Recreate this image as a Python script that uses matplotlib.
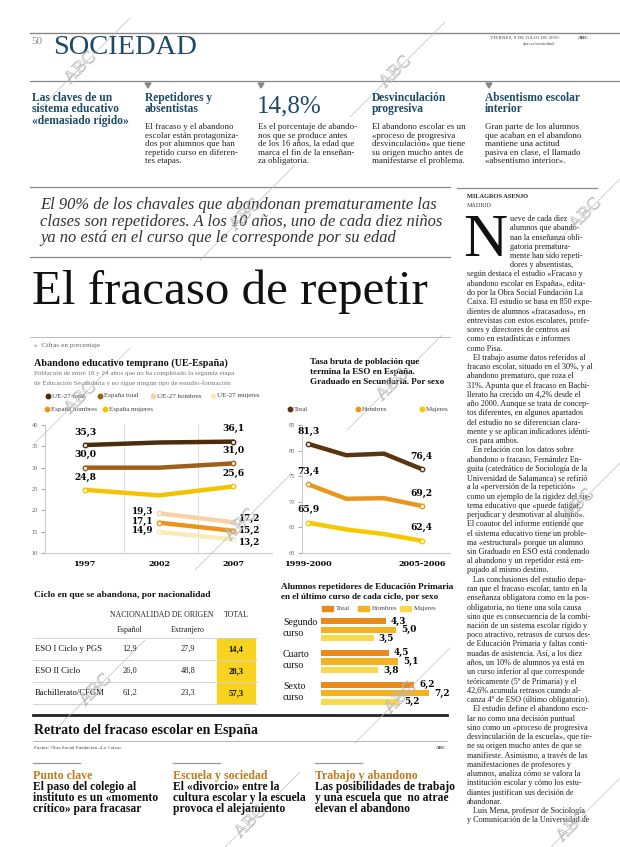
import matplotlib
matplotlib.use("Agg")
import matplotlib.pyplot as plt
import matplotlib.patheffects as pe
from matplotlib.lines import Line2D
from matplotlib.patches import Rectangle, Polygon

# ---- data -------------------------------------------------------------
years = [1997, 2002, 2007]
ue27_total = [35.3, 35.9, 36.1]
espana_total = [30.0, 30.0, 31.0]
espana_mujeres = [24.8, 23.5, 25.6]
years_b = [2002, 2007]
ue27_hombres = [19.3, 17.2]
espana_hombres = [17.1, 15.2]
ue27_mujeres = [14.9, 13.2]

periodos = ["1999-2000", "2001-2002", "2003-2004", "2005-2006"]
eso_total = [81.3, 79.1, 79.4, 76.4]
eso_hombres = [73.4, 70.6, 70.7, 69.2]
eso_mujeres = [65.9, 64.6, 63.7, 62.4]

ciclos = ["ESO I Ciclo y PGS", "ESO II Ciclo", "Bachillerato/CFGM"]
espanol = [12.9, 26.0, 61.2]
extranjero = [27.9, 48.8, 23.3]
total_ciclo = [14.4, 28.3, 57.3]

cursos = ["Segundo\ncurso", "Cuarto\ncurso", "Sexto\ncurso"]
rep_total = [4.3, 4.5, 6.2]
rep_hombres = [5.0, 5.1, 7.2]
rep_mujeres = [3.5, 3.8, 5.2]

W, H = 620, 847
SERIF = "Liberation Serif"
TEAL = "#1d4a66"

fig = plt.figure(figsize=(W / 100, H / 100), dpi=100)
fig.patch.set_facecolor("white")


def fx(x):
    return x / W


def fy(y):
    return 1 - y / H


def txt(x, y, s, size=6, **kw):
    kw.setdefault("family", SERIF)
    kw.setdefault("va", "center")
    fig.text(fx(x), fy(y), s, fontsize=size, **kw)


def hline(x0, x1, y, lw=0.8, color="#888888"):
    fig.add_artist(Line2D([fx(x0), fx(x1)], [fy(y), fy(y)], lw=lw, color=color,
                          transform=fig.transFigure))


def axes_px(x0, y0, x1, y1):
    return fig.add_axes([fx(x0), fy(y1), (x1 - x0) / W, (y1 - y0) / H])


def num(v):
    return f"{v:.1f}".replace(".", ",")


# ---- header -----------------------------------------------------------
hline(30, 620, 33, 1.0)
txt(31, 42, "50", 8, color="#8a8a8a")
txt(53, 48, "SOCIEDAD", 20.5, color=TEAL)
txt(490, 38, "VIERNES, 9 DE JULIO DE 2010", 3.6, color="#444444")
txt(578, 38, "ABC", 3.8, color="#444444", weight="bold")
txt(555, 44, "abc.es/sociedad", 3.6, color="#444444", ha="right")
hline(30, 620, 81, 0.9)
for tx in [148, 261, 489]:
    fig.add_artist(Polygon([[fx(tx - 3), fy(83)], [fx(tx + 3), fy(83)], [fx(tx), fy(88)]],
                           closed=True, color="#8a8a8a", transform=fig.transFigure))

heads = [
    (32, "Las claves de un\nsistema educativo\n«demasiado rígido»"),
    (145, "Repetidores y\nabsentistas"),
    (372, "Desvinculación\nprogresiva"),
    (485, "Absentismo escolar\ninterior"),
]
for hx, s in heads:
    txt(hx, 92, s, 8.3, color=TEAL, weight="bold", va="top", linespacing=0.92)
txt(257, 106, "14,8%", 18, color=TEAL)

bodies = [
    (145, "El fracaso y el abandono\nescolar están protagoniza-\ndos por alumnos que han\nrepetido curso en diferen-\ntes etapas."),
    (258, "Es el porcentaje de abando-\nnos que se produce antes\nde los 16 años, la edad que\nmarca el fin de la enseñan-\nza obligatoria."),
    (372, "El abandono escolar es un\n«proceso de progresiva\ndesvinculación» que tiene\nsu origen mucho antes de\nmanifestarse el problema."),
    (485, "Gran parte de los alumnos\nque acaban en el abandono\nmantiene una actitud\npasiva en clase, el llamado\n«absentismo interior»."),
]
for bx, s in bodies:
    txt(bx, 123, s, 6.4, color="#222222", va="top", linespacing=1.1)

hline(30, 450, 187, 0.9)

# ---- deck and title ---------------------------------------------------
deck = ["El 90% de los chavales que abandonan prematuramente las",
        "clases son repetidores. A los 10 años, uno de cada diez niños",
        "ya no está en el curso que le corresponde por su edad"]
for i, line in enumerate(deck):
    txt(40, 205 + i * 16.5, line, 11.9, style="italic", color="#333333")
hline(30, 450, 257, 0.9)
txt(32, 304, "El fracaso de repetir", 35.3, va="baseline", color="#111111")
hline(30, 450, 337, 0.7, "#bbbbbb")
txt(34, 345, "»  Cifras en porcentaje", 5.2, color="#666666")

# ---- chart 1: abandono educativo temprano ----------------------------
txt(34, 363, "Abandono educativo temprano (UE-España)", 7.3, weight="bold", color="#111111")
txt(34, 374, "Población de entre 18 y 24 años que no ha completado la segunda etapa", 5.0, color="#777777")
txt(34, 383, "de Educación Secundaria y no sigue ningún tipo de estudio-formación", 5.0, color="#777777")

c_ue_total = "#4b2c0c"
c_es_total = "#9e5f1a"
c_ue_h = "#f6d3a6"
c_ue_m = "#faecb8"
c_es_h = "#e8951c"
c_es_m = "#f5c200"

leg1 = [(48, 396, c_ue_total, "UE-27 total"), (100, 396, c_es_total, "España total"),
        (153, 396, c_ue_h, "UE-27 hombres"), (213, 396, c_ue_m, "UE-27 mujeres"),
        (47, 409, c_es_h, "España hombres"), (105, 409, c_es_m, "España mujeres")]
for lx, ly, c, s in leg1:
    fig.add_artist(Line2D([fx(lx)], [fy(ly)], marker="o", ms=3.2, color=c, transform=fig.transFigure))
    txt(lx + 4, ly, s, 5.0, color="#444444")

ax1 = axes_px(45, 425, 272, 553)
series1 = [(years, ue27_total, c_ue_total), (years, espana_total, c_es_total),
           (years, espana_mujeres, c_es_m), (years_b, ue27_hombres, c_ue_h),
           (years_b, espana_hombres, c_es_h), (years_b, ue27_mujeres, c_ue_m)]
for xs, ys, c in series1:
    ax1.plot(xs, ys, color=c, lw=3.2, solid_capstyle="round", zorder=3)
    ax1.plot([xs[0], xs[-1]], [ys[0], ys[-1]], "o", ms=3.2, mfc="white", mec=c, mew=1.0, zorder=4)
for xs, ys in [(years, ue27_total), (years, espana_total), (years, espana_mujeres)]:
    for xv, yv in [(xs[0], ys[0]), (xs[-1], ys[-1])]:
        ax1.annotate(num(yv), (xv, yv), xytext=(0, 6), textcoords="offset points",
                     ha="center", va="bottom", fontsize=6.6, weight="bold", family="DejaVu Serif")
for ys in [ue27_hombres, espana_hombres, ue27_mujeres]:
    ax1.annotate(num(ys[0]), (years_b[0], ys[0]), xytext=(-4, 1), textcoords="offset points",
                 ha="right", va="center", fontsize=6.3, weight="bold", family="DejaVu Serif")
for ys, dy in [(ue27_hombres, 3), (espana_hombres, 0), (ue27_mujeres, -2)]:
    ax1.annotate(num(ys[1]), (years_b[1], ys[1]), xytext=(4, dy), textcoords="offset points",
                 ha="left", va="center", fontsize=6.3, weight="bold", family="DejaVu Serif")
ax1.set_xlim(1994.3, 2009.6)
ax1.set_ylim(10, 40)
ax1.set_xticks(years)
ax1.set_xticklabels([str(y) for y in years], fontsize=5.8, family="DejaVu Serif", weight="bold")
ax1.set_yticks(range(10, 41, 5))
ax1.set_yticklabels([str(v) for v in range(10, 41, 5)], fontsize=4.6, color="#666666", family=SERIF)
for gx in [1999.6, 2004.6, 2009.6]:
    ax1.axvline(gx, color="#dddddd", lw=0.7, zorder=1)
for s in ["top", "right"]:
    ax1.spines[s].set_visible(False)
ax1.spines["left"].set_color("#cccccc")
ax1.spines["bottom"].set_color("#cccccc")
ax1.tick_params(axis="y", length=3, color="#aaaaaa", pad=2)
ax1.tick_params(axis="x", length=0, pad=5)

# ---- chart 2: tasa bruta ESO -------------------------------------------
txt(310, 362, "Tasa bruta de población que", 6.6, weight="bold", color="#111111")
txt(310, 372, "termina la ESO en España.", 6.6, weight="bold", color="#111111")
txt(310, 382, "Graduado en Secundaria. Por sexo", 6.6, weight="bold", color="#111111")
c2_total = "#5a3510"
c2_h = "#e8961c"
c2_m = "#f5c800"
for lx, c, s in [(290, c2_total, "Total"), (358, c2_h, "Hombres"), (422, c2_m, "Mujeres")]:
    fig.add_artist(Line2D([fx(lx)], [fy(409)], marker="o", ms=3.2, color=c, transform=fig.transFigure))
    txt(lx + 4, 409, s, 5.0, color="#444444")

ax2 = axes_px(302, 425, 450, 553)
xs2 = list(range(len(periodos)))
for ys, c in [(eso_total, c2_total), (eso_hombres, c2_h), (eso_mujeres, c2_m)]:
    ax2.plot(xs2, ys, color=c, lw=3.2, solid_capstyle="round", zorder=3)
    ax2.plot([xs2[0], xs2[-1]], [ys[0], ys[-1]], "o", ms=3.2, mfc="white", mec=c, mew=1.0, zorder=4)
    for xv, yv in [(xs2[0], ys[0]), (xs2[-1], ys[-1])]:
        ax2.annotate(num(yv), (xv, yv), xytext=(0, 6), textcoords="offset points",
                     ha="center", va="bottom", fontsize=6.6, weight="bold", family="DejaVu Serif")
ax2.set_xlim(-0.17, 3.75)
ax2.set_ylim(60, 85)
ax2.set_xticks([0, 3])
ax2.set_xticklabels([periodos[0], periodos[-1]], fontsize=5.8, family="DejaVu Serif", weight="bold")
ax2.set_yticks(range(60, 86, 5))
ax2.set_yticklabels([str(v) for v in range(60, 86, 5)], fontsize=4.6, color="#666666", family=SERIF)
for s in ["top", "right"]:
    ax2.spines[s].set_visible(False)
ax2.spines["left"].set_color("#cccccc")
ax2.spines["bottom"].set_color("#cccccc")
ax2.tick_params(axis="y", length=3, color="#aaaaaa", pad=2)
ax2.tick_params(axis="x", length=0, pad=5)

# ---- table ------------------------------------------------------------
txt(34, 595, "Ciclo en que se abandona, por nacionalidad", 6.8, weight="bold", color="#111111")
txt(162, 615, "NACIONALIDAD DE ORIGEN", 5.6, ha="center", color="#222222")
txt(236, 615, "TOTAL", 5.6, ha="center", color="#222222")
txt(130, 630, "Español", 5.8, ha="center", color="#222222")
txt(188, 630, "Extranjero", 5.8, ha="center", color="#222222")
row_tops = [638, 660, 682]
for i, ciclo in enumerate(ciclos):
    top = row_tops[i]
    fig.add_artist(Rectangle((fx(217), fy(top + 21)), 38 / W, 20 / H, color="#f7d21e",
                             transform=fig.transFigure, zorder=0))
    txt(35, top + 11, ciclo, 6.2, color="#111111")
    txt(130, top + 11, num(espanol[i]), 6.0, ha="center", color="#222222")
    txt(188, top + 11, num(extranjero[i]), 6.0, ha="center", color="#222222")
    txt(236, top + 11, num(total_ciclo[i]), 6.2, ha="center", weight="bold", color="#111111")
for ly in [638, 660, 682, 704]:
    hline(33, 257, ly, 0.6, "#cccccc")

# ---- bar chart ----------------------------------------------------------
txt(281, 587, "Alumnos repetidores de Educación Primaria", 6.6, weight="bold", color="#111111")
txt(281, 597, "en el último curso de cada ciclo, por sexo", 6.6, weight="bold", color="#111111")
cb_t = "#ea8a1c"
cb_h = "#f3b21e"
cb_m = "#f9d94c"
for lx, c, s in [(322, cb_t, "Total"), (358, cb_h, "Hombres"), (400, cb_m, "Mujeres")]:
    fig.add_artist(Rectangle((fx(lx), fy(611)), 11 / W, 5 / H, color=c, transform=fig.transFigure))
    txt(lx + 14, 608.5, s, 5.0, color="#444444")

ax3 = axes_px(321, 617, 450, 706)
gap = 3.7
for g in range(len(cursos)):
    for k, (vals, c) in enumerate([(rep_total, cb_t), (rep_hombres, cb_h), (rep_mujeres, cb_m)]):
        yy = g * gap + k
        ax3.barh(yy, vals[g], height=0.72, color=c)
        ax3.text(vals[g] + 0.35, yy, num(vals[g]), va="center", ha="left", fontsize=6.4,
                 weight="bold", family="DejaVu Serif")
ax3.set_xlim(0, 8.6)
ax3.set_ylim(2 * gap + 2.5, -0.5)
ax3.axis("off")
for g, curso in enumerate(cursos):
    txt(283, 628 + g * 32, curso, 7.0, color="#111111", linespacing=1.2)

# ---- bottom ----------------------------------------------------------
hline(33, 447, 715, 2.0, "#222222")
txt(34, 730, "Retrato del fracaso escolar en España", 10.0, weight="bold", color="#111111")
hline(33, 447, 741, 0.5, "#999999")
txt(34, 748, "Fuente: Obra Social Fundación «La Caixa»", 3.6, color="#444444")
txt(446, 748, "ABC", 3.6, weight="bold", ha="right", color="#444444")
bottom_cols = [
    (33, "Punto clave", "El paso del colegio al\ninstituto es un «momento\ncrítico» para fracasar"),
    (173, "Escuela y sociedad", "El «divorcio» entre la\ncultura escolar y la escuela\nprovoca el alejamiento"),
    (315, "Trabajo y abandono", "Las posibilidades de trabajo\ny una escuela que  no atrae\nelevan el abandono"),
]
for bx, kick, body in bottom_cols:
    hline(bx, bx + 47, 763, 0.9, "#999999")
    txt(bx, 776, kick, 8.6, weight="bold", color="#c27a1c")
    for j, line in enumerate(body.split("\n")):
        txt(bx, 787 + j * 11, line, 8.4, weight="bold", color="#111111")

# ---- article column ------------------------------------------------------
hline(457, 597, 188, 0.9)
txt(467, 196, "MILAGROS ASENJO", 4.6, weight="bold", color="#222222")
txt(467, 205, "MADRID", 4.4, color="#444444")
txt(463, 214, "N", 44, va="top", color="#111111")
article = [
    "ueve de cada diez", "alumnos que abando-", "nan la enseñanza obli-",
    "gatoria prematura-", "mente han sido repeti-", "dores y absentistas,",
    "según destaca el estudio «Fracaso y", "abandono escolar en España», edita-",
    "do por la Obra Social Fundación La", "Caixa. El estudio se basa en 850 expe-",
    "dientes de alumnos «fracasados», en", "entrevistas con estos escolares, profe-",
    "sores y directores de centros así", "como en estadísticas e informes",
    "como Pisa.", "   El trabajo asume datos referidos al",
    "fracaso escolar, situado en el 30%, y al", "abandono prematuro, que roza el",
    "31%. Apunta que el fracaso en Bachi-", "llerato ha crecido un 4,2% desde el",
    "año 2000. Aunque se trata de concep-", "tos diferentes, en algunos apartados",
    "del estudio no se diferencian clara-", "mente y se aplican indicadores idénti-",
    "cos para ambos.", "   En relación con los datos sobre",
    "abandono o fracaso, Fernández En-", "guita (catedrático de Sociología de la",
    "Universidad de Salamanca) se refirió", "a la «perversión de la repetición»",
    "como un ejemplo de la rigidez del sis-", "tema educativo que «puede fatigar,",
    "perjudicar y desmotivar al alumno».", "El coautor del informe entiende que",
    "el sistema educativo tiene un proble-", "ma «estructural» porque un alumno",
    "sin Graduado en ESO está condenado", "al abandono y un repetidor está em-",
    "pujado al mismo destino.", "   Las conclusiones del estudio depa-",
    "ran que el fracaso escolar, tanto en la", "enseñanza obligatora como en la pos-",
    "obligatoria, no tiene una sola causa", "sino que es consecuencia de la combi-",
    "nación de un sistema escolar rígido y", "poco atractivo, retrasos de cursos des-",
    "de Educación Primaria y faltas conti-", "nuadas de asistencia. Así, a los diez",
    "años, un 10% de alumnos ya está en", "un curso inferior al que corresponde",
    "teóricamente (5º de Primaria) y el", "42,6% acumula retrasos cuando al-",
    "canza 4º de ESO (último obligatorio).", "   El estudio define el abandono esco-",
    "lar no como una decisión puntual", "sino como un «proceso de progresiva",
    "desvinculación de la escuela», que tie-", "ne su origen mucho antes de que se",
    "manifieste. Asimismo, a través de las", "manifestaciones de profesores y",
    "alumnos, analiza cómo se valora la", "institución escolar y cómo los estu-",
    "diantes justifican sus decisión de", "abandonar.",
    "   Luis Mena, profesor de Sociología", "y Comunicación de la Universidad de",
]
for i, line in enumerate(article):
    x0 = 510 if i < 6 else 467
    txt(x0, 219 + i * 9.25, line, 5.9, color="#222222")

# ---- watermarks ------------------------------------------------------
marks = [(80, 68), (395, 72), (245, 215), (80, 398), (392, 385), (240, 525),
         (585, 214), (578, 505), (95, 690), (400, 698), (572, 826), (250, 822)]
for mx, my in marks:
    fig.add_artist(Line2D([fx(mx - 45), fx(mx + 50)], [fy(my + 45), fy(my - 50)], lw=0.5,
                          color="#c0c0c0", transform=fig.transFigure))
    txt(mx, my, "ABC", 13, rotation=45, ha="center", color="none",
        path_effects=[pe.withStroke(linewidth=0.5, foreground="#b8b8b8")])

fig.savefig("out.png", dpi=100, facecolor="white")
